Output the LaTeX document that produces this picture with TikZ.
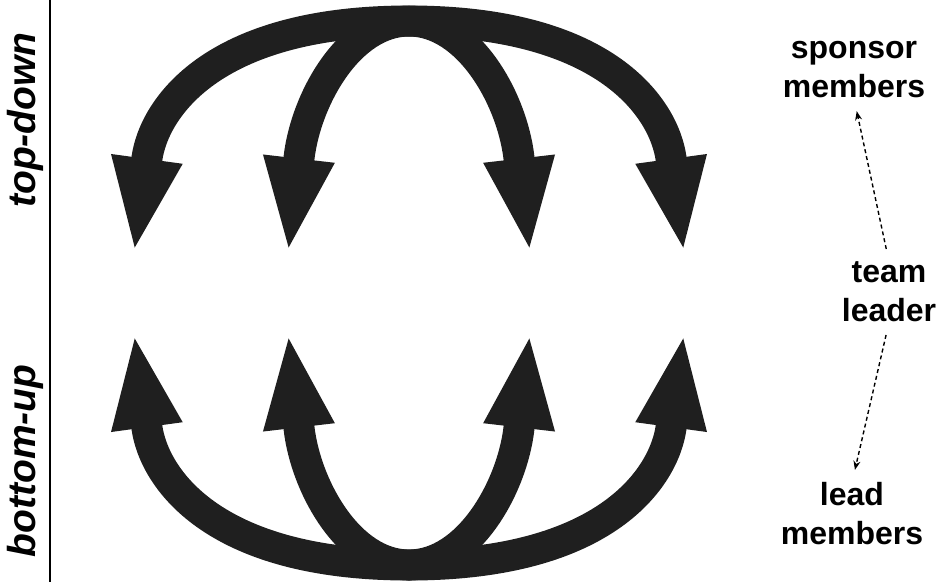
\documentclass[tikz,border=0pt]{standalone}
\usepackage{fontspec}
\setmainfont{Liberation Sans}
\usetikzlibrary{arrows.meta,positioning}
\definecolor{archgray}{gray}{0.12}
\tikzset{
  >=Stealth,
  arch/.style={draw=archgray, line width=31pt,
    arrows={Triangle[width=64pt,length=95pt]-Triangle[width=64pt,length=95pt]}},
  side/.style={font=\fontsize{39}{44}\selectfont\bfseries\itshape, rotate=90},
  role/.style={font=\fontsize{32}{39}\selectfont\bfseries, align=center, inner sep=0pt},
  link/.style={-{Stealth[length=9pt,width=7pt]}, line width=1.4pt,
    dash pattern=on 4pt off 3pt, shorten <=13pt, shorten >=13pt}
}
\begin{document}
\begin{tikzpicture}[x=1pt, y=-1pt]
  \useasboundingbox (0,0) rectangle (938,582);

  % === Left: divider and labels ===
  \coordinate (divtop) at (50,0);
  \coordinate (divbot) at (50,582);
  \draw[line width=2pt] (divtop) -- (divbot);
  \node[side] (topdown) at (25,120) {top-down};
  \node[side] (bottomup) at (25,461) {bottom-up};

  % === Arches: top half, mirrored for the bottom half ===
  \foreach \flip/\off in {1/0, -1/586} {
    \begin{scope}[shift={(0,\off)}, yscale=\flip]
      % outer arch
      \draw[arch] (134,253) -- (147,158) .. controls (154,110) and (210,21) .. (409,21)
                  .. controls (608,21) and (664,110) .. (671,158) -- (684,253);
      % inner arch
      \draw[arch] (288,253) -- (299,158) .. controls (306,98) and (350,21) .. (409,21)
                  .. controls (468,21) and (512,98) .. (519,158) -- (530,253);
    \end{scope}
  }

  % === Right: roles ===
  \node[role] (sponsor) at (854,70) {sponsor\\members};
  \node[role] (leader) at (889,292) {team\\leader};
  \node[role] (lead) at (852,514) {lead\\members};
  \draw[link] (leader.north) -- (sponsor.south);
  \draw[link] (leader.south) -- (lead.north);

\end{tikzpicture}
\end{document}
